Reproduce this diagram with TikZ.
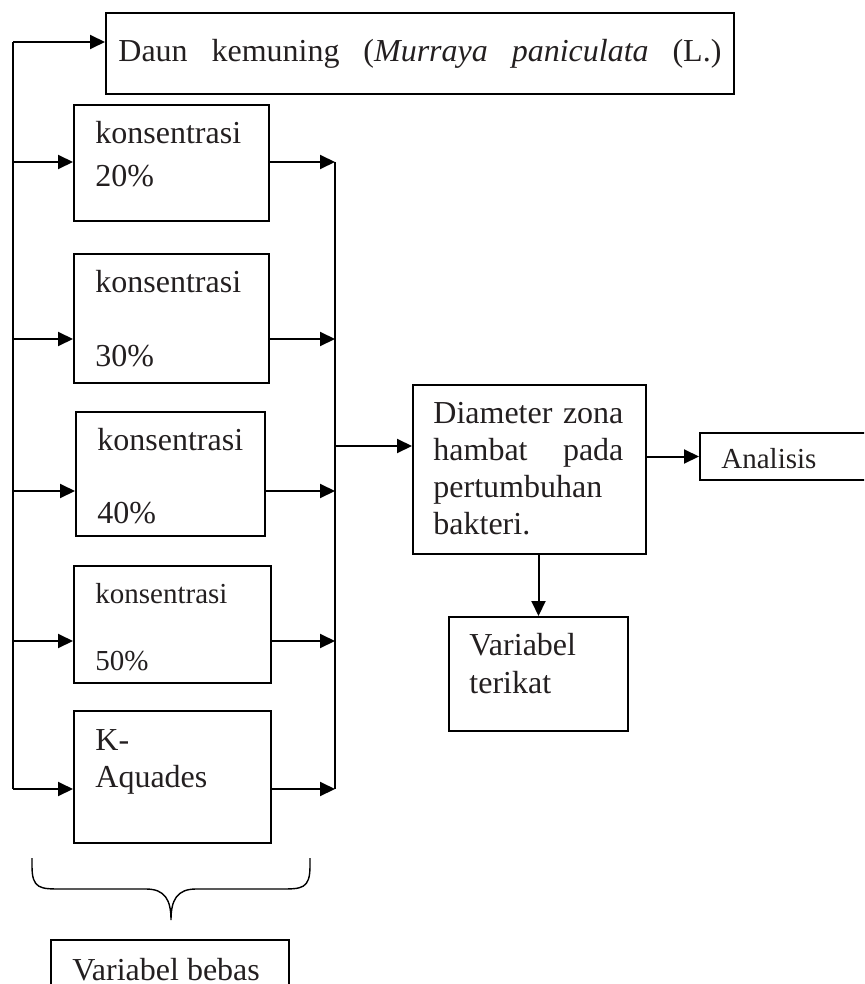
\documentclass[tikz,border=0pt]{standalone}
\usepackage{fontspec}
\setmainfont{Liberation Serif}
\usepackage{tikz}
\usetikzlibrary{arrows.meta,positioning,calc}
\definecolor{tinta}{RGB}{35,31,32}

\tikzset{
  kotak/.style={draw, line width=1pt, inner sep=0pt, anchor=north west},
  teks/.style={anchor=base west, inner sep=0pt, text=tinta, font=\fontsize{16}{19}\selectfont},
  kecil/.style={teks, font=\fontsize{14.5}{17}\selectfont},
  garis/.style={line width=1pt},
  panah/.style={-{Triangle[length=7.5pt,width=7pt]}, line width=1pt},
}

\begin{document}
\begin{tikzpicture}[x=0.5pt, y=-0.5pt]
    \useasboundingbox (0,0) rectangle (864,984);
    \clip (0,0) rectangle (864,984);

    % Daun kemuning
    \node[kotak, minimum width=314pt, minimum height=40.5pt] (daun) at (105,12) {};
    \node[teks] (tdaun) at (118,62) {\makebox[301.5pt][s]{Daun kemuning (\textit{Murraya paniculata} (L.)}};

    % Konsentrasi 20%
    \node[kotak, minimum width=97.5pt, minimum height=58pt] (k20) at (73,104) {};
    \node[teks] (t20a) at (95,144) {konsentrasi};
    \node[teks] (t20b) at (95,187) {20\%};

    % Konsentrasi 30%
    \node[kotak, minimum width=97.5pt, minimum height=64.5pt] (k30) at (73,253) {};
    \node[teks] (t30a) at (95,292) {konsentrasi};
    \node[teks] (t30b) at (95,366) {30\%};

    % Konsentrasi 40%
    \node[kotak, minimum width=94.5pt, minimum height=62pt] (k40) at (75,411) {};
    \node[teks] (t40a) at (97,450) {konsentrasi};
    \node[teks] (t40b) at (97,523) {40\%};

    % Konsentrasi 50%
    \node[kotak, minimum width=98.5pt, minimum height=58.5pt] (k50) at (73,565) {};
    \node[kecil] (t50a) at (95,603) {konsentrasi};
    \node[kecil] (t50b) at (95,670) {50\%};

    % K- Aquades
    \node[kotak, minimum width=98.5pt, minimum height=66pt] (kaq) at (73,710) {};
    \node[teks] (taqa) at (95,750) {K-};
    \node[teks] (taqb) at (95,787) {Aquades};

    % Variabel bebas
    \node[kotak, minimum width=119pt, minimum height=35.5pt] (bebas) at (50,939) {};
    \node[teks] (tbebas) at (72,980) {Variabel bebas};

    % Diameter zona hambat
    \node[kotak, minimum width=116.5pt, minimum height=84.5pt] (diam) at (412,384) {};
    \node[teks, text width=95pt, align=left, font=\fontsize{16}{18.6}\selectfont] (tdiam) at (433,423)
        {Diameter\hfill zona\\hambat\hfill pada\\pertumbuhan\\bakteri.};

    % Analisis
    \node[kotak, minimum width=92pt, minimum height=23.5pt] (anal) at (699,432) {};
    \node[kecil] (tanal) at (721,468) {Analisis};

    % Variabel terikat
    \node[kotak, minimum width=89.5pt, minimum height=57pt] (terikat) at (448,616) {};
    \node[teks] (tter1) at (469,655) {Variabel};
    \node[teks] (tter2) at (469,693) {terikat};

    % Garis kiri dan kanan
    \coordinate (busL) at (13,42);
    \coordinate (busLb) at (13,789);
    \coordinate (busR) at (335,162);
    \coordinate (busRb) at (335,789);
    \draw[garis] (busLb) -- (busL);
    \draw[garis] (busR) -- (busRb);
    \draw[panah] (busL) -- (busL -| daun.west);

    % Panah masuk dan keluar
    \foreach \k/\y in {k20/162, k30/339, k40/491, k50/641, kaq/789} {
        \draw[panah] (busL |- 0,\y) -- (\k.west |- 0,\y);
        \draw[panah] (\k.east |- 0,\y) -- (busR |- 0,\y);
    }
    \draw[panah] (busR |- 0,446) -- (diam.west |- 0,446);
    \draw[panah] (diam.east |- anal.west) -- (anal.west);
    \draw[panah] (terikat.north |- diam.south) -- (terikat.north);

    % Kurung kurawal
    \draw[line width=0.7pt] (32,858) -- (32,866) .. controls (32,889) and (40,889) .. (62,889)
        -- (146,889) .. controls (165,889) and (171,900) .. (171,920)
        .. controls (171,900) and (177,889) .. (196,889) -- (280,889)
        .. controls (302,889) and (310,889) .. (310,866) -- (310,858);
\end{tikzpicture}
\end{document}
